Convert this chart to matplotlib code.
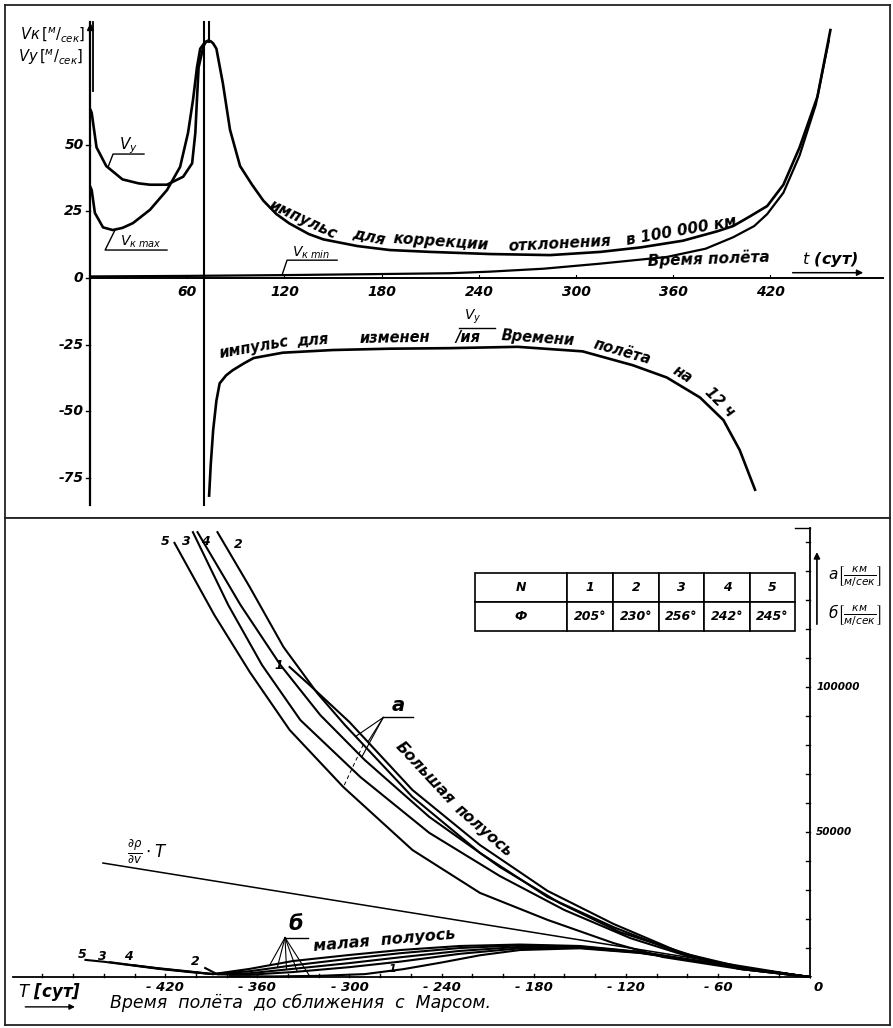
import numpy as np
import matplotlib
matplotlib.use('Agg')
import matplotlib.pyplot as plt

plt.rcParams['font.family'] = ['DejaVu Sans']
plt.rcParams['mathtext.fontset'] = 'dejavusans'

# ---------------- top panel data (t in days, V in m/s) ----------------
vy_t = [0.3, 1, 4, 10, 20, 30, 37, 47.5, 57.5, 63, 65, 66, 67, 70, 71.5, 73, 74.5, 76, 78, 82, 86.4,
        92.6, 100, 107, 115, 123, 135, 144, 165, 185, 210, 247, 284, 315, 340, 366, 387, 397, 407,
        418, 428, 438, 449, 457]
vy_v = [63, 62, 49, 42, 37, 35.5, 35, 35, 38, 43, 54.5, 67, 79, 87, 88.5, 89, 88.8, 88, 86, 73, 55.6,
        42, 35, 29, 24, 20.5, 16.5, 14.5, 12, 10.5, 9.8, 9.0, 8.6, 9.8, 11.5, 14, 17.5, 19.5, 23,
        27, 35, 49, 68, 93]
PEAK = 15  # index of the maximum of vy

vkmax_t = [0.3, 1, 3, 8, 14, 20, 26.5, 37, 47.5, 55.6, 60.5, 63.6, 66, 68, 71, 73]
vkmax_v = [34, 33, 24.4, 19, 18, 18.8, 20.6, 25.6, 33, 41.7, 54.5, 67, 79, 86, 88.5, 89]

vkmin_t = [0, 60, 120, 180, 222, 247, 280, 315, 356, 380, 397, 410, 418, 428, 438, 448, 456]
vkmin_v = [0.6, 0.8, 1.1, 1.5, 1.8, 2.4, 3.5, 5.4, 7.9, 11, 15.3, 19.5, 24, 32, 46, 65, 89]

neg_t = [73.5, 74.5, 76, 78, 80, 84, 88, 95, 101, 110, 119, 150, 185, 222, 264, 304, 335, 356,
         376.5, 391, 401, 410.5]
neg_v = [-81.6, -70, -57, -46, -39.5, -36.5, -34.6, -32, -30, -29, -28, -27, -26.5, -26.3, -25.8,
         -27.5, -32.7, -37.3, -44.8, -53.3, -64.5, -79.4]

t_ticks = [60, 120, 180, 240, 300, 360, 420]
v_ticks = [50, 25, 0, -25, -50, -75]

# ---------------- bottom panel data (T in days, km/(m/s)) ----------------
a5_t = [-414, -388, -365, -339, -304, -259, -215, -171, -128, -96, -46, 0]
a5_v = [149700, 124800, 105200, 85200, 65500, 43800, 29000, 19700, 11700, 6900, 2800, 0]
a3_t = [-402, -379, -357, -332, -293, -248, -202, -160, -117, -78, -40, 0]
a3_v = [153400, 128300, 107600, 88600, 69000, 49700, 34800, 23100, 13400, 6900, 2800, 0]
a4_t = [-399, -371, -345, -319, -290, -248, -202, -163, -124, -78, -40, 0]
a4_v = [153400, 128300, 107600, 90300, 74800, 55200, 37900, 25500, 15500, 7600, 2800, 0]
a2_t = [-386, -365, -343, -321, -303, -259, -215, -171, -128, -85, -46, 0]
a2_v = [153400, 134500, 113800, 97900, 86900, 62100, 42800, 27600, 17200, 8300, 2800, 0]
a1_t = [-339, -326, -300, -259, -215, -171, -128, -85, -46, 0]
a1_v = [106900, 100700, 87900, 64500, 45500, 29700, 18300, 8600, 2800, 0]

b5_t = [-472, -459, -443, -424, -404, -389, -365, -337, -300, -267, -228, -189, -150, -111, -72, -33, 0]
b5_v = [5900, 5200, 4100, 2800, 1700, 1000, 2800, 5500, 7600, 9300, 10700, 11200, 10700, 8700, 5500, 2400, 0]
b3_t = [-456, -443, -424, -404, -389, -365, -337, -300, -267, -228, -189, -150, -111, -72, -33, 0]
b3_v = [5100, 4200, 2900, 1800, 1000, 2000, 4000, 6300, 8200, 10000, 10900, 10500, 8600, 5400, 2400, 0]
b4_t = [-440, -424, -404, -389, -365, -337, -300, -267, -228, -189, -150, -111, -72, -33, 0]
b4_v = [4000, 3000, 1900, 1000, 1300, 2800, 4800, 6800, 9000, 10400, 10300, 8500, 5400, 2400, 0]
b2_t = [-394, -386, -365, -337, -300, -267, -228, -189, -150, -111, -72, -33, 0]
b2_v = [3100, 900, 800, 1700, 3400, 5300, 8000, 9900, 10100, 8400, 5300, 2400, 0]
b1_t = [-378, -350, -320, -290, -265, -240, -215, -189, -150, -111, -72, -33, 0]
b1_v = [300, 200, 400, 1000, 2700, 5000, 7500, 9300, 9900, 8300, 5300, 2400, 0]

dr_t = [-460.6, 0]
dr_v = [39300, 0]

T_ticks = [-420, -360, -300, -240, -180, -120, -60]
N_labels = ['1', '2', '3', '4', '5']
phi = ['205°', '230°', '256°', '242°', '245°']

TXT = dict(fontstyle='italic', fontweight='bold', color='black')


def along(ax, xs, ys, x0, s, rot, off, size=11):
    y0 = np.interp(x0, xs, ys)
    r = np.radians(rot)
    ax.annotate(s, (x0, y0), xytext=(-off * np.sin(r), off * np.cos(r)),
                textcoords='offset points', rotation=rot, rotation_mode='anchor',
                ha='center', va='center', fontsize=size, **TXT)


fig = plt.figure(figsize=(8.93, 10.28), dpi=100)
ax1 = fig.add_axes([5 / 893, 510 / 1028, 885 / 893, 513 / 1028])
ax2 = fig.add_axes([5 / 893, 3 / 1028, 885 / 893, 507 / 1028])
for ax in (ax1, ax2):
    ax.set_xticks([])
    ax.set_yticks([])
    for sp in ax.spines.values():
        sp.set_linewidth(1.3)
        sp.set_color('#222222')

# ======================= top panel =======================
ax1.set_xlim(-52.5, 493.8)
ax1.set_ylim(-90.0, 102.4)

ax1.plot([0, 0], [-85, 96], color='k', lw=1.6)
ax1.plot([2, 2], [70, 96], color='k', lw=1.3)
ax1.plot([0], [94], marker='^', color='k', ms=5)
ax1.plot([0, 489.5], [0, 0], color='k', lw=1.4)
ax1.plot([70.5, 70.5], [-85, 96], color='k', lw=1.5)
ax1.plot([73.5, 73.5], [88.5, 96], color='k', lw=1.5)

for t in t_ticks:
    ax1.plot([t, t], [0, 1.2], color='k', lw=0.8)
    ax1.text(t, -5.4, str(t), ha='center', va='center', fontsize=10, **TXT)
for v in v_ticks:
    ax1.plot([-2.5, 0], [v, v], color='k', lw=1)
    ax1.text(-4, v, str(v), ha='right', va='center', fontsize=10, **TXT)

ax1.plot(vy_t, vy_v, color='k', lw=1.9)
ax1.plot(vkmax_t, vkmax_v, color='k', lw=1.9)
ax1.plot(vkmin_t, vkmin_v, color='k', lw=1.6)
ax1.plot(neg_t, neg_v, color='k', lw=1.9)

# axis captions
ax1.text(-3.1, 91.5, r'$Vк\,[{}^{м}/_{сек}]$', ha='right', va='center', fontsize=10.5, **TXT)
ax1.text(-4.3, 83.0, r'$Vу\,[{}^{м}/_{сек}]$', ha='right', va='center', fontsize=10.5, **TXT)
ax1.text(382, 3.2, 'Время полёта', ha='center', va='bottom', rotation=2, fontsize=11, **TXT)
ax1.text(457, 3.2, r'$t$ (сут)', ha='center', va='bottom', fontsize=11.5, **TXT)
ax1.annotate('', xy=(479, 2.0), xytext=(432, 2.0),
             arrowprops=dict(arrowstyle='-|>', color='k', lw=1.1, mutation_scale=9))

# curve labels with leader lines
ax1.text(23.5, 49.5, r'$V_у$', ha='center', va='center', fontsize=11, **TXT)
ax1.plot([11.1, 14.2, 33.3], [41.6, 46.5, 46.5], color='k', lw=1)
ax1.text(31.5, 13.5, r'$V_{к\ max}$', ha='center', va='center', fontsize=10, **TXT)
ax1.plot([15.4, 9.3, 47.5], [18, 10.5, 10.5], color='k', lw=1)
ax1.text(136.5, 9.6, r'$V_{к\ min}$', ha='center', va='center', fontsize=10, **TXT)
ax1.plot([118.5, 121.6, 152.5], [1.1, 6.7, 6.7], color='k', lw=1)

# text written along the curves
rx, ry = vy_t[PEAK:], vy_v[PEAK:]
for s, x0, rot in [('импульс', 129, -25), ('для', 171, -12), ('коррекции', 216, -4),
                   ('отклонения', 290, 3), ('в 100 000 км', 366, 10)]:
    along(ax1, rx, ry, x0, s, rot, 7.5)
for s, x0, rot in [('импульс', 102, 10), ('для', 138, 4), ('изменен', 188, 1), ('/ия', 233, 0),
                   ('Времени', 276, -4), ('полёта', 327, -16), ('на', 362, -32), ('12 ч', 384, -45)]:
    along(ax1, neg_t, neg_v, x0, s, rot, 7.5, size=10.5)
ax1.plot([228, 250], [-18.7, -18.7], color='k', lw=1)
ax1.text(236, -14.5, r'$V_у$', ha='center', va='center', fontsize=10, **TXT)

# ======================= bottom panel =======================
ax2.set_xlim(-524.4, 52.1)
ax2.set_ylim(-16550, 158280)

ax2.plot([-519, 0], [0, 0], color='k', lw=1.3)
ax2.plot([0, 0], [0, 155000], color='k', lw=1.3)
ax2.plot([-10, 0], [155000, 155000], color='k', lw=1)
for t in range(-500, 0, 20):
    ax2.plot([t, t], [0, 1100], color='k', lw=1)
for v in range(10000, 155000, 10000):
    ax2.plot([-2.6, 0], [v, v], color='k', lw=1)
for t in T_ticks:
    ax2.text(t, -3450, '- %d' % -t, ha='center', va='center', fontsize=9.5, **TXT)
ax2.text(5, -3450, '0', ha='center', va='center', fontsize=9.5, **TXT)
ax2.text(4, 100000, '100000', ha='left', va='center', fontsize=7.5, **TXT)
ax2.text(4, 50000, '50000', ha='left', va='center', fontsize=7.5, **TXT)

for xs, ys in [(a5_t, a5_v), (a3_t, a3_v), (a4_t, a4_v), (a2_t, a2_v), (a1_t, a1_v)]:
    ax2.plot(xs, ys, color='k', lw=1.5)
for xs, ys in [(b5_t, b5_v), (b3_t, b3_v), (b4_t, b4_v), (b2_t, b2_v), (b1_t, b1_v)]:
    ax2.plot(xs, ys, color='k', lw=1.5)
ax2.plot(dr_t, dr_v, color='k', lw=1.1)

# curve numbers
for s, x, y in [('5', -420, 150300), ('3', -406, 150300), ('4', -394, 150300), ('2', -372.6, 149000)]:
    ax2.text(x, y, s, ha='center', va='center', fontsize=9, **TXT)
ax2.text(-343, 107500, '1', ha='right', va='center', fontsize=9, **TXT)
for s, x, y in [('5', -474, 7600), ('3', -461, 7200), ('4', -444, 6900), ('2', -400.7, 5300)]:
    ax2.text(x, y, s, ha='center', va='center', fontsize=9, **TXT)

# "a" fan and dashed connector
ax_ap = (-278, 89500)
ax2.plot([ax_ap[0], -258.6], [ax_ap[1], ax_ap[1]], color='k', lw=1)
for xs, ys, x0 in [(a2_t, a2_v, -296), (a4_t, a4_v, -292), (a1_t, a1_v, -288)]:
    ax2.plot([ax_ap[0], x0], [ax_ap[1], np.interp(x0, xs, ys)], color='k', lw=0.8)
ax2.text(-268, 93500, 'a', ha='center', va='center', fontsize=14, **TXT)
ax2.plot([-291, -304], [np.interp(-291, a2_t, a2_v), np.interp(-304, a5_t, a5_v)],
         color='k', lw=0.7, ls=(0, (4, 3)))

# "б" fan
bp = (-342, 13600)
ax2.plot([bp[0], -327], [bp[1], bp[1]], color='k', lw=1)
for xs, ys, x0 in [(b5_t, b5_v, -352), (b3_t, b3_v, -347), (b4_t, b4_v, -341),
                   (b2_t, b2_v, -334), (b1_t, b1_v, -326)]:
    ax2.plot([bp[0], x0], [bp[1], np.interp(x0, xs, ys)], color='k', lw=0.8)
ax2.text(-335, 18200, 'б', ha='center', va='center', fontsize=15, **TXT)
ax2.text(-272, 2600, '1', ha='center', va='center', fontsize=8, **TXT)

ax2.text(-251, 70500, 'Большая', rotation=-47, ha='center', va='center', fontsize=11, **TXT)
ax2.text(-213, 50500, 'полуось', rotation=-41, ha='center', va='center', fontsize=11, **TXT)
ax2.text(-277, 12600, 'малая  полуось', rotation=5, ha='center', va='center', fontsize=11.5, **TXT)
ax2.text(-432, 43100, r'$\frac{\partial\rho}{\partial v}\cdot T$', ha='center', va='center', fontsize=12)

ax2.text(-495, -5200, r'$T$ [сут]', ha='center', va='center', fontsize=12, **TXT)
ax2.annotate('', xy=(-477, -10300), xytext=(-513, -10300),
             arrowprops=dict(arrowstyle='-|>', color='k', lw=1, mutation_scale=8))
ax2.text(-456, -8900, 'Время  полёта  до сближения  с  Марсом.', ha='left', va='center',
         fontsize=12.5, fontstyle='italic', color='k')

# right axis caption
ax2.annotate('', xy=(4.5, 147500), xytext=(4.5, 120700),
             arrowprops=dict(arrowstyle='-|>', color='k', lw=1.2, mutation_scale=9))
ax2.text(12, 137900, r'$a\left[\frac{км}{м/сек}\right]$', ha='left', va='center', fontsize=11)
ax2.text(12, 124600, r'$б\left[\frac{км}{м/сек}\right]$', ha='left', va='center', fontsize=11)

# table N / phi
cols = [92, 46, 46, 45, 46, 45]
tab = ax2.table(cellText=[['N'] + N_labels, ['Ф'] + phi], cellLoc='center',
                colWidths=[c / sum(cols) for c in cols], bbox=[0.531, 0.777, 0.3616, 0.1144])
tab.auto_set_font_size(False)
for cell in tab.get_celld().values():
    cell.set_linewidth(1.2)
    cell.get_text().set_fontsize(9)
    cell.get_text().set_fontstyle('italic')
    cell.get_text().set_fontweight('bold')

fig.savefig('out.png', dpi=100, facecolor='white')
